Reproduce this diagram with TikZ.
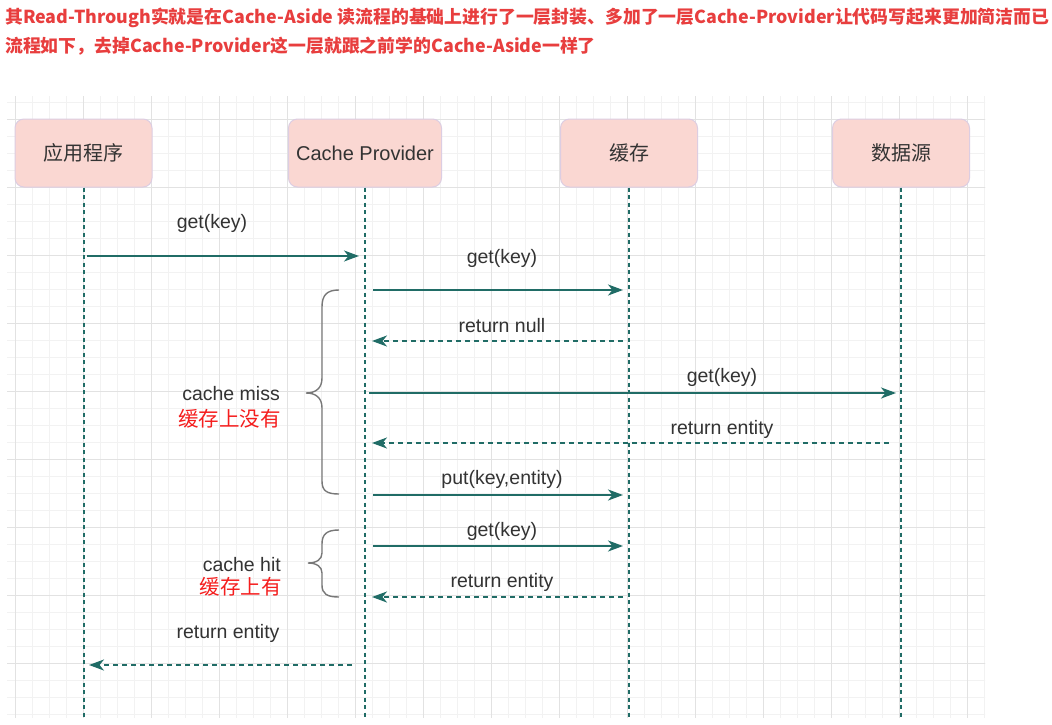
\documentclass[tikz,border=0pt]{standalone}
\usepackage{fontspec}
\setmainfont{Liberation Sans}
\newfontfamily\cjk{Noto Sans CJK SC}
\usetikzlibrary{arrows.meta}
\definecolor{tealline}{RGB}{32,108,102}
\definecolor{boxfill}{RGB}{250,215,210}
\definecolor{boxdraw}{RGB}{220,205,226}
\definecolor{txtgray}{RGB}{51,51,51}
\definecolor{hdrred}{RGB}{232,62,62}
\definecolor{lblred}{RGB}{245,30,30}
\definecolor{gridmajor}{RGB}{226,226,226}
\definecolor{gridminor}{RGB}{242,242,242}
\definecolor{bracegray}{RGB}{120,120,120}
\begin{document}
\begin{tikzpicture}[x=1pt,y=-1pt,
  actor/.style={draw=boxdraw, line width=1pt, fill=boxfill, rounded corners=9pt,
    minimum width=137pt, minimum height=68pt, inner sep=0pt, text=txtgray,
    font=\fontsize{20}{24}\selectfont},
  lifeline/.style={draw=tealline, line width=2pt, dash pattern=on 4pt off 3.5pt},
  msg/.style={draw=tealline, line width=2pt, -{Stealth[length=15pt,width=11pt,inset=4.5pt]}},
  ret/.style={msg, dash pattern=on 5pt off 4pt},
  lbl/.style={text=txtgray, font=\fontsize{19.5}{23}\selectfont, inner sep=0pt},
  redlbl/.style={text=lblred, font=\fontsize{20.5}{24}\selectfont\cjk, inner sep=0pt},
  brace/.style={draw=bracegray, line width=1.4pt},
  minorgrid/.style={draw=gridminor, line width=0.8pt},
  majorgrid/.style={draw=gridmajor, line width=0.9pt},
  hdr/.style={text=hdrred, font=\fontsize{17.85}{20}\selectfont\cjk\bfseries, inner sep=0pt, anchor=west}]
\useasboundingbox (0,0) rectangle (1052,725);
\fill[white] (0,0) rectangle (1052,725);
% grid
\begin{scope}
  \clip (7,96) rectangle (985,717);
  \foreach \x in {-2,15,...,1000} \draw[minorgrid] (\x,90) -- (\x,720);
  \foreach \y in {85,102,...,720} \draw[minorgrid] (0,\y) -- (1000,\y);
  \foreach \x in {15,83,...,1000} \draw[majorgrid] (\x,90) -- (\x,720);
  \foreach \y in {119,187,...,720} \draw[majorgrid] (0,\y) -- (1000,\y);
\end{scope}
% header
\node[hdr] (h1) at (5,18) {其Read-Through实就是在Cache-Aside 读流程的基础上进行了一层封装、多加了一层Cache-Provider让代码写起来更加简洁而已};
\node[hdr] (h2) at (5,46) {流程如下，去掉Cache-Provider这一层就跟之前学的Cache-Aside一样了};
% actors
\node[actor] (app) at (83.5,153) {\cjk 应用程序};
\node[actor, minimum width=153pt] (cp) at (365,153) {Cache Provider};
\node[actor] (cache) at (629,153) {\cjk 缓存};
\node[actor] (ds) at (901,153) {\cjk 数据源};
% lifeline ends
\coordinate (appE) at (83.5,717);
\coordinate (cpE) at (365,717);
\coordinate (cacheE) at (629,717);
\coordinate (dsE) at (901,717);
\draw[lifeline] (app.south) -- (appE);
\draw[lifeline] (cp.south) -- (cpE);
\draw[lifeline] (cache.south) -- (cacheE);
\draw[lifeline] (ds.south) -- (dsE);
% message endpoints
\coordinate (m1a) at (87,256);  \coordinate (m1b) at (359,256);
\coordinate (m2a) at (373,290); \coordinate (m2b) at (623,290);
\coordinate (m3a) at (623,341); \coordinate (m3b) at (372,341);
\coordinate (m4a) at (369,393); \coordinate (m4b) at (896,393);
\coordinate (m5a) at (889,443); \coordinate (m5b) at (372,443);
\coordinate (m6a) at (373,495); \coordinate (m6b) at (623,495);
\coordinate (m7a) at (373,546); \coordinate (m7b) at (623,546);
\coordinate (m8a) at (623,597); \coordinate (m8b) at (372,597);
\coordinate (m9a) at (352,665); \coordinate (m9b) at (89,665);
\draw[msg] (m1a) -- (m1b);
\draw[msg] (m2a) -- (m2b);
\draw[ret] (m3a) -- (m3b);
\draw[msg] (m4a) -- (m4b);
\draw[ret] (m5a) -- (m5b);
\draw[msg] (m6a) -- (m6b);
\draw[msg] (m7a) -- (m7b);
\draw[ret] (m8a) -- (m8b);
\draw[ret] (m9a) -- (m9b);
% labels
\node[lbl] (l1) at (212,223) {get(key)};
\node[lbl] (l2) at (502,258) {get(key)};
\node[lbl] (l3) at (502,326) {return null};
\node[lbl] (l4) at (722,377) {get(key)};
\node[lbl] (l5) at (722,429) {return entity};
\node[lbl] (l6) at (502,479) {put(key,entity)};
\node[lbl] (l7) at (502,531) {get(key)};
\node[lbl] (l8) at (502,582) {return entity};
\node[lbl] (l9) at (228,633) {return entity};
% braces
\draw[brace] (339,290) .. controls (327,290) and (322,295) .. (322,307)
  -- (322,378) .. controls (322,388) and (316,393) .. (306,393)
  .. controls (316,393) and (322,398) .. (322,408)
  -- (322,481) .. controls (322,491) and (327,494) .. (339,494);
\draw[brace] (339,530) .. controls (327,530) and (322,534) .. (322,544)
  -- (322,553) .. controls (322,559) and (317,563) .. (308,563)
  .. controls (317,563) and (322,567) .. (322,573)
  -- (322,585) .. controls (322,594) and (327,597) .. (339,597);
\node[lbl, anchor=east] (miss) at (280,394) {cache miss};
\node[redlbl, anchor=east] (missz) at (281,419) {缓存上没有};
\node[lbl, anchor=east] (hit) at (281,565) {cache hit};
\node[redlbl, anchor=east] (hitz) at (282,587) {缓存上有};
\end{tikzpicture}
\end{document}
